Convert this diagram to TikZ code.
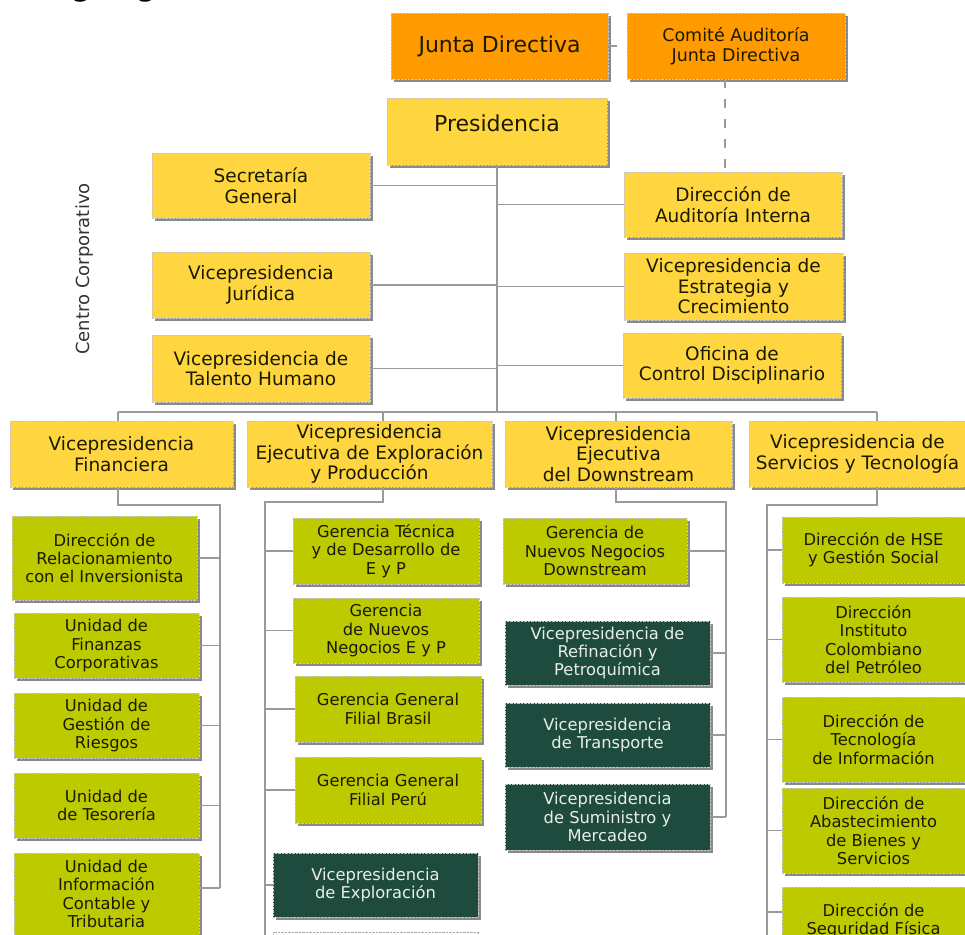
\documentclass[tikz,border=0pt]{standalone}
\usepackage{fontspec}
\setmainfont{DejaVu Sans}
\usetikzlibrary{shadows}
\definecolor{orangec}{HTML}{FF9A00}
\definecolor{yellowc}{HTML}{FFD640}
\definecolor{greenc}{HTML}{BDCA00}
\definecolor{darkc}{HTML}{1E4B3E}
\definecolor{txtc}{HTML}{1A1A00}
\definecolor{lightc}{HTML}{E8EEE8}
\definecolor{shadc}{HTML}{8A8A8A}
\definecolor{linec}{HTML}{9A9A9A}
\begin{document}
\begin{tikzpicture}[x=1pt,y=-1pt,
  boxbase/.style={inner sep=0pt, align=center, text=txtc, draw=black!22, line width=0.4pt, densely dotted,
    drop shadow={shadow xshift=3pt, shadow yshift=-3pt, fill=shadc, opacity=1}},
  sz/.style 2 args={minimum width=#1pt, minimum height=#2pt},
  obox/.style={boxbase, fill=orangec},
  ybox/.style={boxbase, fill=yellowc, font=\fontsize{18.5pt}{20.5pt}\selectfont},
  gbox/.style={boxbase, fill=greenc, font=\fontsize{16.3pt}{18.3pt}\selectfont},
  dbox/.style={boxbase, fill=darkc, text=lightc, font=\fontsize{16.3pt}{18.3pt}\selectfont},
  conn/.style={draw=linec, line width=1.1pt},
  dashc/.style={draw=linec, line width=1.1pt, dash pattern=on 9pt off 11pt}
]
\useasboundingbox[fill=white] (0,0) rectangle (965,934);

% title (cut off at top)
\node[anchor=base west, inner sep=0pt, font=\bfseries\fontsize{26.6pt}{30pt}\selectfont] (title) at (36,-3) {Organigrama};

% side label
\node[rotate=90, inner sep=0pt, text=black!80, font=\fontsize{18pt}{20pt}\selectfont] (cc) at (85,269) {Centro Corporativo};

% top level
\node[obox, sz={217}{66}, font=\fontsize{22pt}{24pt}\selectfont] (junta) at (499.5,46) {Junta Directiva};
\node[obox, sz={218}{66}, font=\fontsize{17.5pt}{20pt}\selectfont] (comite) at (736,46) {Comité Auditoría\\Junta Directiva};
\node[ybox, sz={220}{67}, font=\fontsize{22pt}{24pt}\selectfont] (pres) at (497,131.5) {\raisebox{0pt}[0pt][0pt]{Presidencia}};

% corporate centre
\node[ybox, sz={218}{65}] (sec) at (261,185.5) {Secretaría\\General};
\node[ybox, sz={218}{66}] (jur) at (261,285) {Vicepresidencia\\Jurídica};
\node[ybox, sz={218}{67}] (tal) at (261,368.5) {Vicepresidencia de\\Talento Humano};
\node[ybox, sz={218}{65}] (aud) at (733,204.5) {Dirección de\\Auditoría Interna};
\node[ybox, sz={219}{67}] (est) at (733.5,286.5) {Vicepresidencia de\\Estrategia y\\Crecimiento};
\node[ybox, sz={218}{65}] (ofi) at (732,365.5) {Oficina de\\Control Disciplinario};

% vice presidencies
\node[ybox, sz={223}{66}] (vpfin) at (121.5,454) {Vicepresidencia\\Financiera};
\node[ybox, sz={245}{66}] (vpeyp) at (369.5,454) {Vicepresidencia\\Ejecutiva de Exploración\\y Producción};
\node[ybox, sz={227}{66}] (vpdown) at (618.5,454) {Vicepresidencia\\Ejecutiva\\del Downstream};
\node[ybox, sz={217}{66}] (vpserv) at (857.5,454) {Vicepresidencia de\\Servicios y Tecnología};

% financiera
\node[gbox, sz={185}{84}] (fin1) at (104.5,558) {Dirección de\\Relacionamiento\\con el Inversionista};
\node[gbox, sz={185}{65}] (fin2) at (106.5,645.5) {Unidad de\\Finanzas\\Corporativas};
\node[gbox, sz={185}{65}] (fin3) at (106.5,725.5) {Unidad de\\Gestión de\\Riesgos};
\node[gbox, sz={185}{65}] (fin4) at (106.5,805.5) {Unidad de\\de Tesorería};
\node[gbox, sz={185}{82}] (fin5) at (106.5,894) {Unidad de\\Información\\Contable y\\Tributaria};

% exploracion y produccion
\node[gbox, sz={186}{66}] (eyp1) at (386,551) {Gerencia Técnica\\y de Desarrollo de\\E y P};
\node[gbox, sz={186}{65}] (eyp2) at (386,630.5) {Gerencia\\de Nuevos\\Negocios E y P};
\node[gbox, sz={186}{66}] (eyp3) at (388,709) {Gerencia General\\Filial Brasil};
\node[gbox, sz={186}{66}] (eyp4) at (388,790) {Gerencia General\\Filial Perú};
\node[dbox, sz={205}{64}] (eyp5) at (375.5,885) {Vicepresidencia\\de Exploración};
\node[boxbase, draw=black!35, sz={205}{60}] (eyp6) at (375.5,962) {};

% downstream
\node[gbox, sz={184}{66}] (dn1) at (595,551) {Gerencia de\\Nuevos Negocios\\Downstream};
\node[dbox, sz={205}{64}] (dn2) at (607.5,653) {Vicepresidencia de\\Refinación y\\Petroquímica};
\node[dbox, sz={205}{64}] (dn3) at (607.5,735) {Vicepresidencia\\de Transporte};
\node[dbox, sz={205}{66}] (dn4) at (607.5,817) {Vicepresidencia\\de Suministro y\\Mercadeo};

% servicios
\node[gbox, sz={183}{66}] (sv1) at (873.5,550) {Dirección de HSE\\y Gestión Social};
\node[gbox, sz={183}{85}] (sv2) at (873.5,639.5) {Dirección\\Instituto\\Colombiano\\del Petróleo};
\node[gbox, sz={183}{85}] (sv3) at (873.5,739.5) {Dirección de\\Tecnología\\de Información};
\node[gbox, sz={183}{85}] (sv4) at (873.5,830.5) {Dirección de\\Abastecimiento\\de Bienes y\\Servicios};
\node[gbox, sz={183}{68}] (sv5) at (873.5,921) {Dirección de\\Seguridad Física};

% coordinates
\coordinate (cd) at (725,0);
\coordinate (b1) at (118,412);
\coordinate (b2) at (383,412);
\coordinate (b3) at (616,412);
\coordinate (b4) at (877,412);
\coordinate (fa) at (118,505);
\coordinate (fb) at (220,505);
\coordinate (fc) at (220,888);
\coordinate (ea) at (383,502);
\coordinate (eb) at (265,502);
\coordinate (ec) at (265,945);
\coordinate (da) at (616,502);
\coordinate (db) at (726,502);
\coordinate (dc) at (726,817);
\coordinate (sa) at (877,505);
\coordinate (sb) at (767,505);
\coordinate (sc) at (767,945);

% board links
\draw[dashc] (junta.east) -- (comite.west);
\draw[dashc] (comite.south -| cd) -- (aud.north -| cd);

% trunk
\draw[conn] (pres.south) -- (pres.south |- b1);
\draw[conn] (sec.east) -- (sec.east -| pres.south);
\draw[conn] (jur.east) -- (jur.east -| pres.south);
\draw[conn] (tal.east) -- (tal.east -| pres.south);
\draw[conn] (aud.west) -- (aud.west -| pres.south);
\draw[conn] (est.west) -- (est.west -| pres.south);
\draw[conn] (ofi.west) -- (ofi.west -| pres.south);

% bus
\draw[conn] (b1) -- (b4);
\draw[conn] (b1) -- (b1 |- vpfin.north);
\draw[conn] (b2) -- (b2 |- vpeyp.north);
\draw[conn] (b3) -- (b3 |- vpdown.north);
\draw[conn] (b4) -- (b4 |- vpserv.north);

% financiera tree
\draw[conn] (fa |- vpfin.south) -- (fa) -- (fb) -- (fc);
\draw[conn] (fin1.east) -- (fin1.east -| fb);
\draw[conn] (fin2.east) -- (fin2.east -| fb);
\draw[conn] (fin3.east) -- (fin3.east -| fb);
\draw[conn] (fin4.east) -- (fin4.east -| fb);
\draw[conn] ([yshift=6pt]fin5.east) -- (fc);

% eyp tree
\draw[conn] (ea |- vpeyp.south) -- (ea) -- (eb) -- (ec);
\draw[conn] (eyp1.west) -- (eyp1.west -| eb);
\draw[conn] (eyp2.west) -- (eyp2.west -| eb);
\draw[conn] (eyp3.west) -- (eyp3.west -| eb);
\draw[conn] (eyp4.west) -- (eyp4.west -| eb);
\draw[conn] (eyp5.west) -- (eyp5.west -| eb);

% downstream tree
\draw[conn] (da |- vpdown.south) -- (da) -- (db) -- (dc);
\draw[conn] (dn1.east) -- (dn1.east -| db);
\draw[conn] (dn2.east) -- (dn2.east -| db);
\draw[conn] (dn3.east) -- (dn3.east -| db);
\draw[conn] (dn4.east) -- (dc);

% servicios tree
\draw[conn] (sa |- vpserv.south) -- (sa) -- (sb) -- (sc);
\draw[conn] (sv1.west) -- (sv1.west -| sb);
\draw[conn] (sv2.west) -- (sv2.west -| sb);
\draw[conn] (sv3.west) -- (sv3.west -| sb);
\draw[conn] (sv4.west) -- (sv4.west -| sb);
\draw[conn] ([yshift=9pt]sv5.west) -- ([yshift=9pt]sv5.west -| sb);
\end{tikzpicture}
\end{document}
